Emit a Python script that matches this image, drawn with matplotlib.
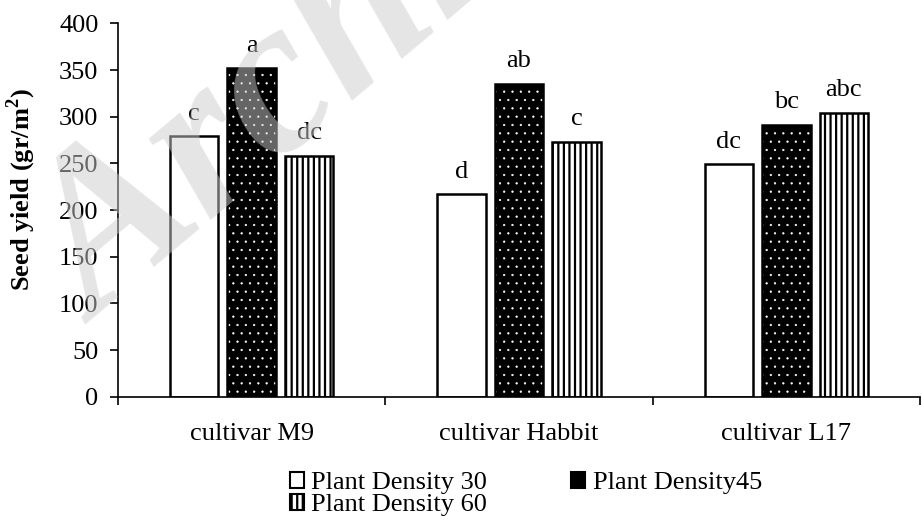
import matplotlib
matplotlib.use("Agg")
import matplotlib.pyplot as plt
from matplotlib.patches import Patch
import numpy as np

categories = ["cultivar M9", "cultivar Habbit", "cultivar L17"]
series_names = ["Plant Density 30", "Plant Density45", "Plant Density 60"]
d30 = [279, 217, 249]
d45 = [352, 335, 291]
d60 = [258, 273, 304]
letters30 = ["c", "d", "dc"]
letters45 = ["a", "ab", "bc"]
letters60 = ["dc", "c", "abc"]
yticks = [0, 50, 100, 150, 200, 250, 300, 350, 400]

plt.rcParams['font.family'] = ['Liberation Serif', 'DejaVu Serif']

fig = plt.figure(figsize=(9.22, 5.22), dpi=100)
ax = fig.add_axes([118/922, 1-396.7/522, 802/922, 373.3/522])

x = np.arange(len(categories))
cat_px = 271.0
pitch = 58.3 / cat_px
w = 49.0 / cat_px
fs = 19

# density 30
ax.bar(x - pitch, d30, w, facecolor='white', edgecolor='black', linewidth=1.8, zorder=2)
# density 45: black with small white dots
plt.rcParams['hatch.linewidth'] = 0.4
dots = ax.bar(x, d45, w, facecolor='black', edgecolor='white', linewidth=0, hatch='..', zorder=2)
for p in dots:
    if hasattr(p, 'set_hatch_linewidth'):
        p.set_hatch_linewidth(0.4)
ax.bar(x, d45, w, fill=False, edgecolor='black', linewidth=1.8, zorder=3)
# density 60: vertical lines
plt.rcParams['hatch.linewidth'] = 1.6
lines = ax.bar(x + pitch, d60, w, facecolor='white', edgecolor='black', linewidth=1.8,
               hatch='|||', zorder=2)
for p in lines:
    if hasattr(p, 'set_hatch_linewidth'):
        p.set_hatch_linewidth(1.6)

for xs, vals, labs in [(x - pitch, d30, letters30), (x, d45, letters45), (x + pitch, d60, letters60)]:
    for xi, v, lab in zip(xs, vals, labs):
        ax.annotate(lab, (xi, v), xytext=(0, 12), textcoords='offset points',
                    ha='center', va='baseline', fontsize=fs)

ax.set_ylim(0, 400)
ax.set_yticks(yticks)
ax.set_xlim(-0.5, -0.5 + 802/cat_px)
ax.set_xticks(x)
ax.set_xticklabels(categories, fontsize=fs)
ax.set_xticks([-0.5, 0.5, 1.5, 2.5], minor=True)
ax.tick_params(axis='x', which='major', length=0, pad=19)
ax.tick_params(axis='x', which='minor', length=6, width=1.2, direction='out')
ax.tick_params(axis='y', labelsize=fs, length=6, width=1.2, direction='out', pad=8)
for s in ['top', 'right']:
    ax.spines[s].set_visible(False)
for s in ['left', 'bottom']:
    ax.spines[s].set_linewidth(1.2)

ax.set_ylabel("Seed yield (gr/m$^{\\mathregular{2}}$)", fontsize=fs, fontweight='bold')
ax.yaxis.set_label_coords(-80/802, 0.556)

# watermark
fig.text(97/922, 1-325/522, "Archive of SID", fontsize=160, fontweight='bold', fontstyle='italic',
         color=(0.8, 0.8, 0.8), alpha=0.5, rotation=40, rotation_mode='anchor',
         ha='left', va='baseline', zorder=10)

handles = [Patch(facecolor='white', edgecolor='black', linewidth=1.5),
           Patch(facecolor='white', edgecolor='black', linewidth=1.5, hatch='|||'),
           Patch(facecolor='black', edgecolor='black', linewidth=1.5)]
labels = [series_names[0], series_names[2], series_names[1]]
fig.legend(handles, labels, ncol=2, loc='upper left', bbox_to_anchor=(290/922, 1-472/522),
           frameon=False, fontsize=fs, handlelength=0.53, handleheight=0.53,
           handletextpad=0.27, columnspacing=3.2, labelspacing=0.0, borderaxespad=0,
           borderpad=0)

fig.savefig("out.png", dpi=100)
